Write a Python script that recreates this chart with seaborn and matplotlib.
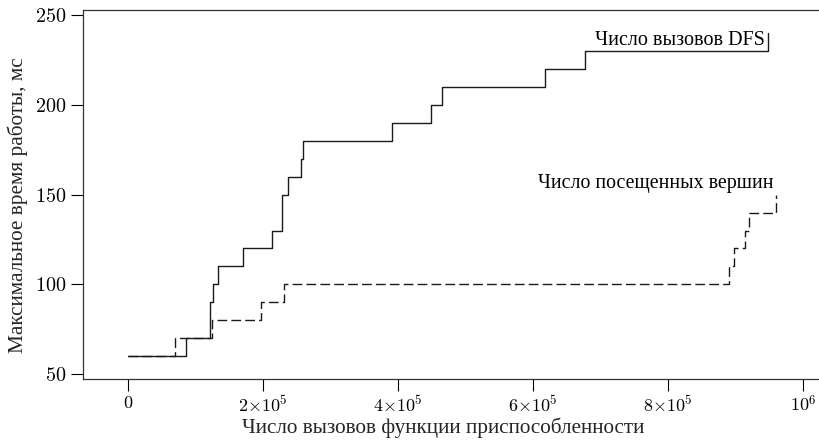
import matplotlib
matplotlib.use("Agg")
import matplotlib.pyplot as plt
import seaborn as sns
import pandas as pd

# step data (x = fitness calls, y = max run time, ms)
dfs_x = [0, 86300, 121800, 126200, 134100, 171100, 213100, 227900, 228800,
         237700, 256500, 259900, 391600, 448900, 465600, 617600, 676800, 948100]
dfs_y = [60, 70, 90, 100, 110, 120, 130, 140, 150,
         160, 170, 180, 190, 200, 210, 220, 230, 240]

vert_x = [0, 70000, 124300, 197300, 231800, 889900, 897300, 913600, 920000, 959500]
vert_y = [60, 70, 80, 90, 100, 110, 120, 130, 140, 150]

x_ticks = [0, 200000, 400000, 600000, 800000, 1000000]
x_ticklabels = [r"$0$", r"$2{\times}10^5$", r"$4{\times}10^5$",
                r"$6{\times}10^5$", r"$8{\times}10^5$", r"$10^6$"]
y_ticks = [50, 100, 150, 200, 250]

sns.set_style("ticks")
plt.rcParams["font.family"] = ["Liberation Serif", "DejaVu Serif"]
plt.rcParams["mathtext.fontset"] = "cm"

dfs = pd.DataFrame({"x": dfs_x, "y": dfs_y})
vert = pd.DataFrame({"x": vert_x, "y": vert_y})

fig = plt.figure(figsize=(8.2, 4.4), dpi=100)
ax = fig.add_axes([0.1009, 0.138, 0.8991, 0.839])

line_col = "#1a1a1a"
sns.lineplot(data=dfs, x="x", y="y", ax=ax, drawstyle="steps-post",
             estimator=None, color=line_col, linewidth=1.0)
sns.lineplot(data=vert, x="x", y="y", ax=ax, drawstyle="steps-post",
             estimator=None, color=line_col, linewidth=1.0,
             linestyle=(0, (7, 3)))

ax.text(dfs_x[-1] - 5000, 235.8, "Число вызовов DFS", ha="right", va="center",
        fontsize=14.5, color="black")
ax.text(vert_x[-1] - 4000, 156.4, "Число посещенных вершин", ha="right",
        va="center", fontsize=14.3, color="black")

ax.set_xlim(-66600, 1024600)
ax.set_ylim(47.3, 252.5)
ax.set_xticks(x_ticks)
ax.set_xticklabels(x_ticklabels)
ax.set_yticks(y_ticks)
ax.set_yticklabels([rf"${v}$" for v in y_ticks])
ax.tick_params(direction="out", length=8.6, width=0.8, pad=3, colors="black")
ax.tick_params(axis="x", labelsize=13)
ax.tick_params(axis="y", labelsize=14.5)

for side in ["left", "top", "bottom"]:
    ax.spines[side].set_color("#333333")
    ax.spines[side].set_linewidth(0.9)
ax.spines["right"].set_visible(False)

ax.set_xlabel("Число вызовов функции приспособленности", fontsize=15.3)
ax.set_ylabel("Максимальное время работы, мс", fontsize=15.3)
# centre the axis titles where the reference has them
ax.xaxis.set_label_coords((443 - 82.7) / (820 - 82.7), -(428 - 379.3) / 369.3)
ax.yaxis.set_label_coords(-(82.7 - 18) / 737.3, (379.3 - 205) / 369.3)
ax.xaxis.label.set_va("center")
ax.yaxis.label.set_va("center")

fig.savefig("out.png", dpi=100)
